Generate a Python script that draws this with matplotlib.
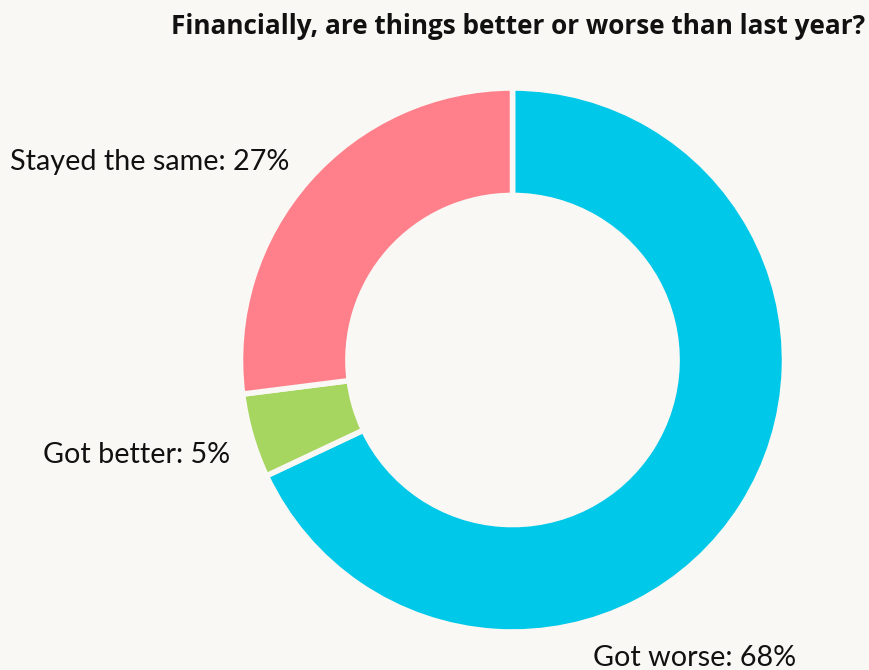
import matplotlib
matplotlib.use("Agg")
import matplotlib.pyplot as plt

labels = ["Got worse", "Got better", "Stayed the same"]
values = [68, 5, 27]
colors = ["#00c8e8", "#a6d65f", "#ff808a"]

bg = "#f9f8f5"
plt.rcParams['font.family'] = ['Lato', 'DejaVu Sans']

W, H = 870, 670
fig = plt.figure(figsize=(W / 100, H / 100), dpi=100, facecolor=bg)

# donut centre (512, 360) px, radius ~270 px
cx, cy, r = 512.5, 360, 272
ax = fig.add_axes([(cx - r) / W, (H - cy - r) / H, 2 * r / W, 2 * r / H])
ax.set_facecolor(bg)
ax.pie(values, colors=colors, startangle=90, counterclock=False, radius=1,
       wedgeprops=dict(width=0.395, edgecolor=bg, linewidth=4))
ax.set_xlim(-1, 1)
ax.set_ylim(-1, 1)
ax.set_aspect('equal')
ax.axis('off')

fig.text(865 / W, 1 - 27 / H, "Financially, are things better or worse than last year?",
         ha='right', va='center', fontsize=18.8, fontweight='bold', color='#111111',
         family=['Open Sans', 'DejaVu Sans'])

label_pos = {
    "Stayed the same": (10, 162, 'left'),
    "Got better": (43, 455, 'left'),
    "Got worse": (593, 658, 'left'),
}
for lab, val in zip(labels, values):
    x, y, ha = label_pos[lab]
    fig.text(x / W, 1 - y / H, f"{lab}: {val}%", ha=ha, va='center',
             fontsize=20.7, color='#111111')

fig.savefig("out.png", dpi=100, facecolor=bg)
